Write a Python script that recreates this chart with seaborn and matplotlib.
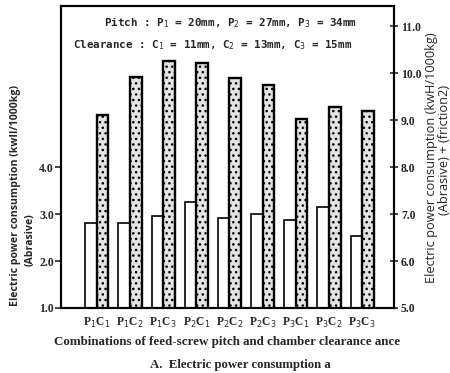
import matplotlib
matplotlib.use("Agg")
import matplotlib.pyplot as plt
import seaborn as sns
import pandas as pd
import numpy as np

categories = ["P$_1$C$_1$", "P$_1$C$_2$", "P$_1$C$_3$", "P$_2$C$_1$", "P$_2$C$_2$",
              "P$_2$C$_3$", "P$_3$C$_1$", "P$_3$C$_2$", "P$_3$C$_3$"]
abrasive = [2.82, 2.80, 2.96, 3.26, 2.91, 3.00, 2.87, 3.14, 2.54]
total = [9.10, 9.91, 10.26, 10.21, 9.89, 9.74, 9.02, 9.27, 9.20]
left_ticks = [1.0, 2.0, 3.0, 4.0]
right_ticks = [5.0, 6.0, 7.0, 8.0, 9.0, 10.0, 11.0]

sns.set_theme(style="white")
serif = ["Liberation Serif", "DejaVu Serif"]
plt.rcParams["font.family"] = serif
plt.rcParams["hatch.linewidth"] = 1.0

series = ["Abrasive", "Total"]
df1 = pd.DataFrame({"cat": categories * 2,
                    "series": ["Abrasive"] * 9 + ["Total"] * 9,
                    "val": abrasive + [np.nan] * 9})
df2 = pd.DataFrame({"cat": categories * 2,
                    "series": ["Abrasive"] * 9 + ["Total"] * 9,
                    "val": [np.nan] * 9 + total})

fig = plt.figure(figsize=(4.5, 3.73), dpi=100)
ax = fig.add_axes([61 / 450, 1 - 308 / 373, (394 - 61) / 450, (308 - 6) / 373])
ax2 = ax.twinx()

sns.barplot(data=df1, x="cat", y="val", hue="series", hue_order=series, order=categories,
            palette=["white", "white"], edgecolor="black", linewidth=1.2,
            width=0.7, dodge=True, gap=0, legend=False, ax=ax, errorbar=None)
sns.barplot(data=df2, x="cat", y="val", hue="series", hue_order=series, order=categories,
            palette=["white", "#e4e4e4"], edgecolor="black", linewidth=1.7,
            width=0.7, dodge=True, gap=0, legend=False, ax=ax2, errorbar=None)
for p in ax2.patches:
    p.set_hatch("...")

ax.set_xlim(-1.08, 8.96)
ax.set_ylim(1.0, 7.43)
ax2.set_ylim(5.0, 11.43)

ax.set_yticks(left_ticks)
ax.set_yticklabels([f"{t:.1f}" for t in left_ticks], fontsize=8.6, fontweight="bold")
ax2.set_yticks(right_ticks)
ax2.set_yticklabels([f"{t:.1f}" for t in right_ticks], fontsize=8.4, fontweight="bold")
ax.set_xticks(range(len(categories)))
ax.set_xticklabels(categories, fontsize=8.3, fontweight="bold")
ax.tick_params(axis="x", length=0, pad=6)
ax.tick_params(axis="y", direction="out", length=4, width=1.2, pad=1, left=True)
ax2.tick_params(axis="y", direction="inout", length=6, width=1.2, pad=2, right=True)

for a in (ax, ax2):
    for s in a.spines.values():
        s.set_linewidth(1.5)
        s.set_color("black")

ax.set_xlabel("Combinations of feed-screw pitch and chamber clearance ance",
              fontsize=9.4, fontweight="bold", labelpad=4)
ax.set_ylabel("")
ax2.set_ylabel("")

sans = ["Open Sans", "DejaVu Sans"]
fig.text(16 / 450, 1 - 195 / 373, "Electric power consumption (kwII/1000kg)",
         rotation=90, ha="center", va="center", fontsize=7.6, fontweight="bold", family=sans)
fig.text(30 / 450, 1 - 240 / 373, "(Abrasive)",
         rotation=90, ha="center", va="center", fontsize=7.6, fontweight="bold", family=sans)
fig.text(431 / 450, 1 - 158 / 373, "Electric power consumption (kwH/1000kg)",
         rotation=90, ha="center", va="center", fontsize=9.2, family=sans)
fig.text(444 / 450, 1 - 150 / 373, "(Abrasive) + (friction2)",
         rotation=90, ha="center", va="center", fontsize=9.2, family=sans)

mono = ["DejaVu Sans Mono"]
ax.text(0.51, 0.945, "Pitch : P$_1$ = 20mm, P$_2$ = 27mm, P$_3$ = 34mm",
        transform=ax.transAxes, ha="center", va="center", fontsize=7.8,
        fontweight="bold", family=mono)
ax.text(0.455, 0.87, "Clearance : C$_1$ = 11mm, C$_2$ = 13mm, C$_3$ = 15mm",
        transform=ax.transAxes, ha="center", va="center", fontsize=7.8,
        fontweight="bold", family=mono)

fig.text(240 / 450, 1 - 365 / 373, "A.  Electric power consumption a",
         ha="center", va="center", fontsize=9.2, fontweight="bold")

fig.savefig("out.png", dpi=100)
